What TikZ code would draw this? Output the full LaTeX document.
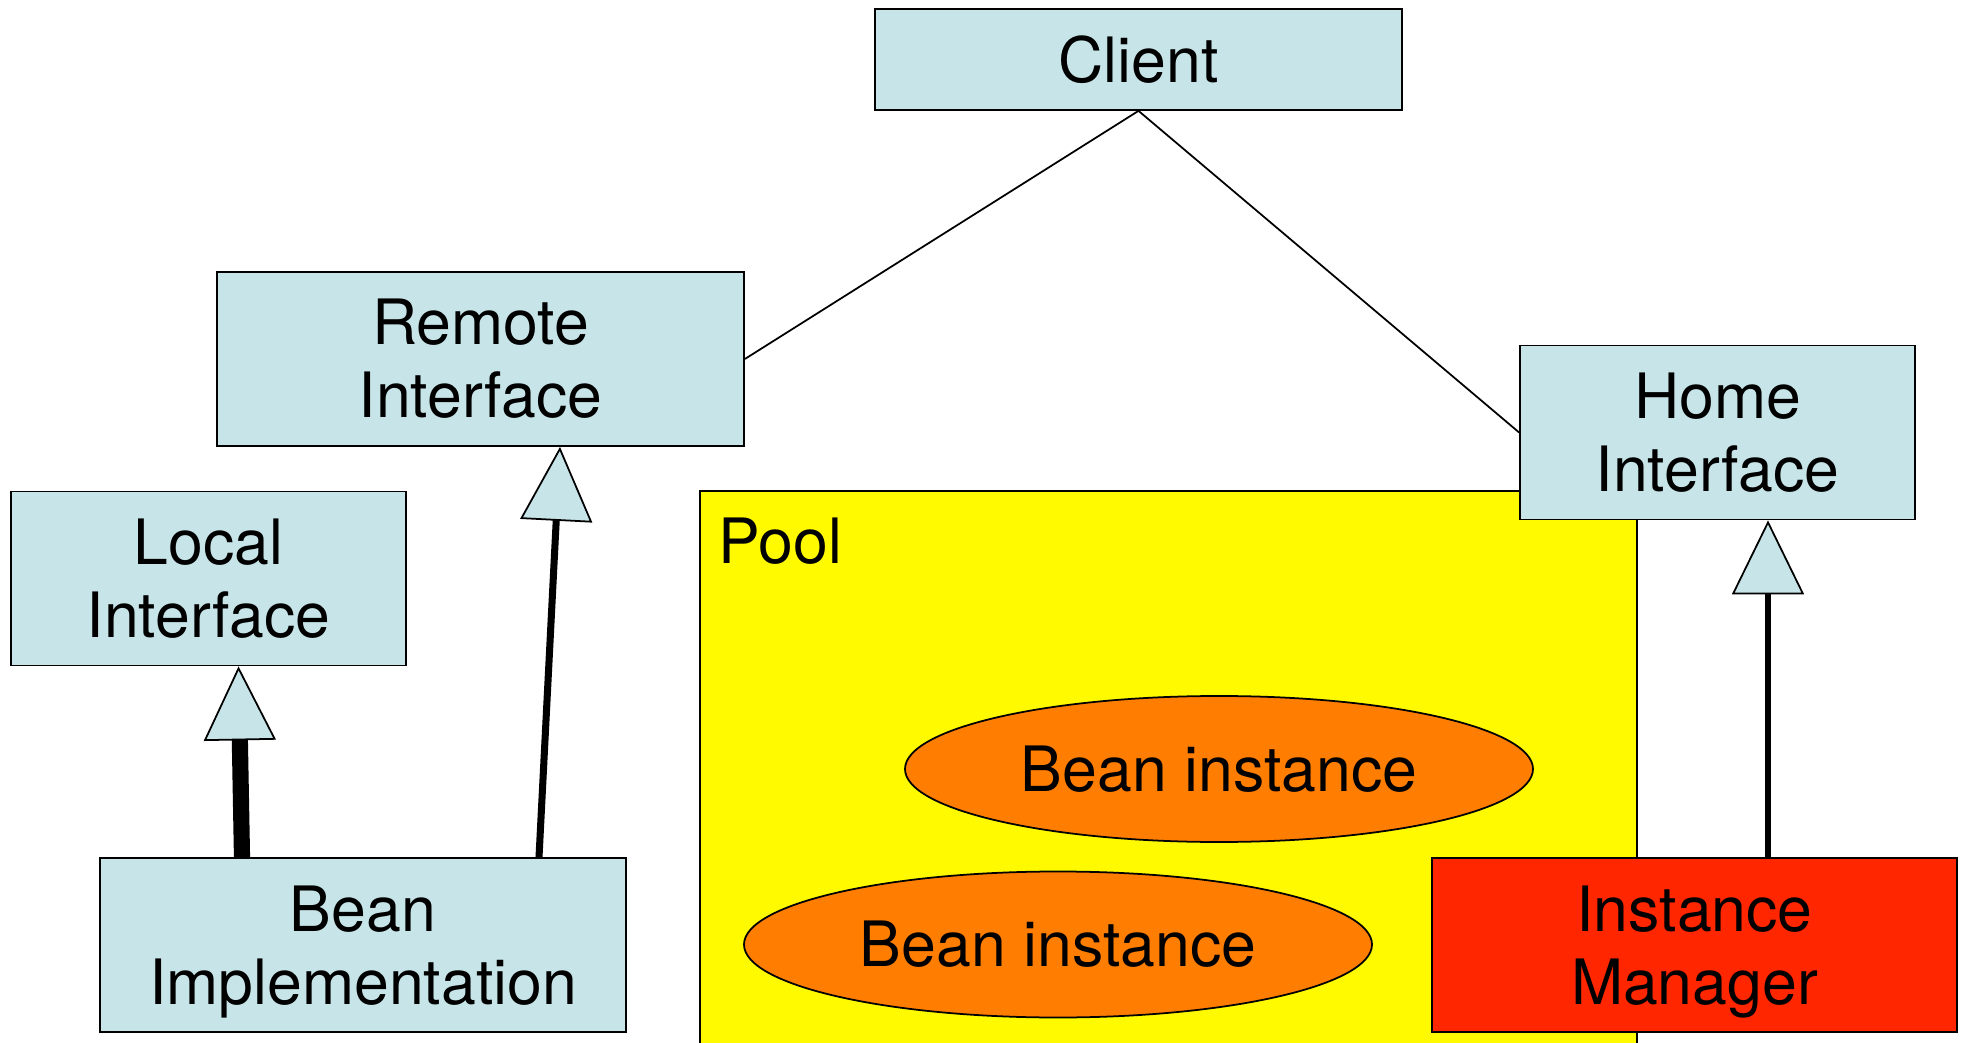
\documentclass[tikz,border=0pt]{standalone}
\usepackage{fontspec}
\setmainfont{TeX Gyre Heros}
\usetikzlibrary{calc}
\usetikzlibrary{shapes.geometric}
\usetikzlibrary{arrows.meta}

\definecolor{azulclaro}{RGB}{199,229,232}
\definecolor{amarelo}{RGB}{255,250,0}
\definecolor{laranja}{RGB}{255,125,0}
\definecolor{vermelho}{RGB}{255,38,0}

\begin{document}
\begin{tikzpicture}
  %--------------------------------------------
  % Definição de tamanho dos blocos
  %--------------------------------------------
  \def\szh{1.74cm}   % altura dos blocos de duas linhas
  \def\szw{5.27cm}   % largura dos blocos largos
  \def\szs{3.95cm}   % largura dos blocos estreitos

  %--------------------------------------------
  % Estilos
  %--------------------------------------------
  \tikzstyle{block} = [
    draw, fill=azulclaro, rectangle, line width=.5pt,  % contorno fino
    minimum height=\szh, minimum width=\szw,           % tamanho mínimo
    align=center, inner sep=0pt,
    font=\fontsize{17.8pt}{20.7pt}\selectfont
  ]
  \tikzstyle{bean} = [
    draw, fill=laranja, ellipse, line width=.5pt,
    minimum width=6.28cm, minimum height=1.46cm, inner sep=0pt,
    font=\fontsize{17.8pt}{20.7pt}\selectfont
  ]
  \tikzstyle{herda} = [
    -{Triangle[length=7.4mm, width=7.2mm, fill=azulclaro, line width=.5pt]}
  ]

  %--------------------------------------------
  % Área total da figura
  %--------------------------------------------
  \useasboundingbox (0,0) rectangle (19.66,-10.43);

  %--------------------------------------------
  % Pool (fundo amarelo)
  %--------------------------------------------
  \draw[fill=amarelo, line width=.5pt] (7.00,-4.91) rectangle (16.37,-10.60);
  \node (pool) [anchor=base west, inner sep=0pt,
    font=\fontsize{17.8pt}{20.7pt}\selectfont] at (7.18,-5.64) {Pool};

  %--------------------------------------------
  % Blocos
  %--------------------------------------------
  \node (client) [block, minimum height=1.01cm] at (11.385,-0.595) {Client};
  \node (remote) [block] at (4.805,-3.59) {Remote\\Interface};
  \node (local)  [block, minimum width=\szs] at (2.085,-5.785) {Local\\Interface};
  \node (home)   [block, minimum width=\szs] at (17.175,-4.325) {Home\\Interface};
  \node (impl)   [block, minimum width=5.26cm] at (3.63,-9.45) {Bean\\\smash{Implementation}};
  \node (mgr)    [block, fill=vermelho, minimum width=5.25cm] at (16.945,-9.45) {Instance\\\smash{Manager}};

  %--------------------------------------------
  % Instâncias dentro do pool
  %--------------------------------------------
  \node (bean1) [bean] at (12.19,-7.69) {Bean instance};
  \node (bean2) [bean] at (10.58,-9.445) {Bean instance};

  %--------------------------------------------
  % Ligações do cliente
  %--------------------------------------------
  \draw[line width=.5pt] (client.south) -- (remote.east);
  \draw[line width=.5pt] (client.south) -- (home.west);

  %--------------------------------------------
  % Setas de herança
  %--------------------------------------------
  \draw[herda, line width=4.6pt] ([xshift=-1.21cm]impl.north) -- ([xshift=.30cm]local.south);
  \draw[herda, line width=2pt] ([xshift=1.76cm]impl.north) -- ([xshift=.795cm]remote.south);
  \draw[herda, line width=1.7pt] ([xshift=.735cm]mgr.north) -- ([xshift=.505cm]home.south);
\end{tikzpicture}
\end{document}
